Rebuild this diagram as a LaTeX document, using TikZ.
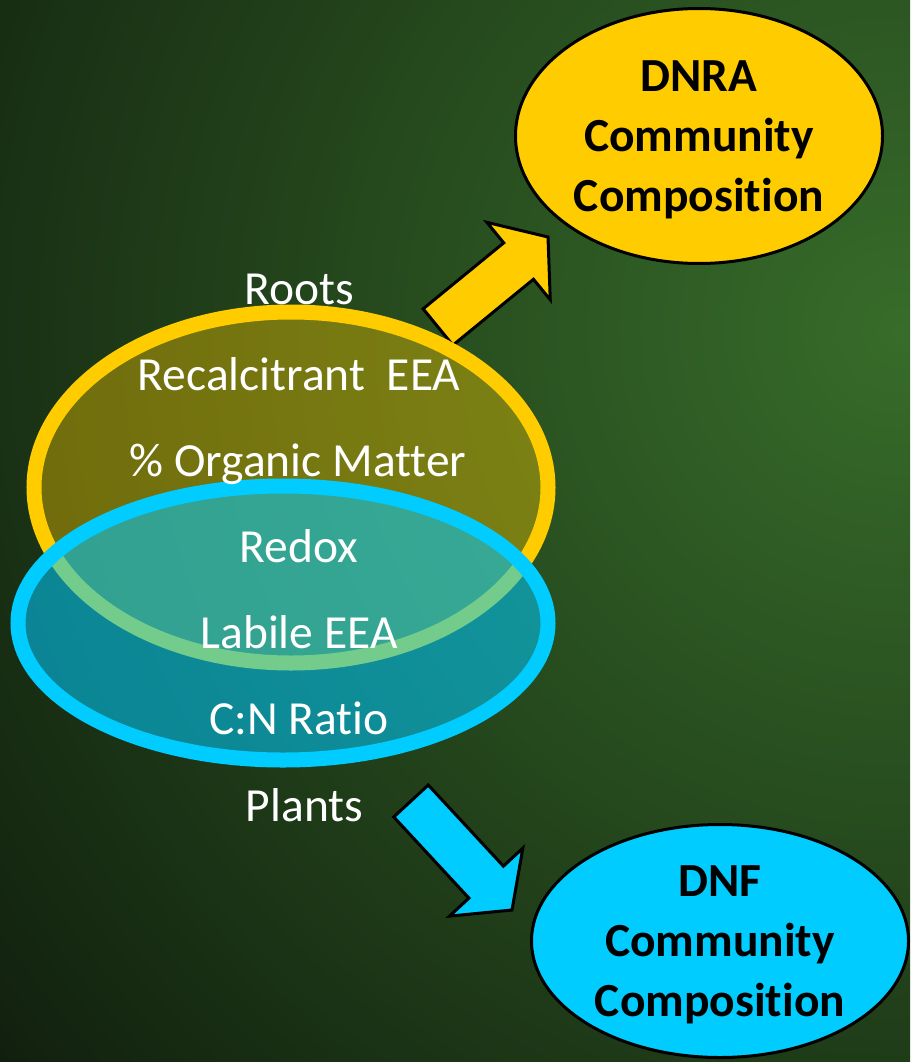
\documentclass[tikz,border=0pt]{standalone}
\usepackage{fontspec}
\setmainfont{Carlito}[Ligatures=NoCommon]
\usetikzlibrary{calc,shapes.geometric}
\definecolor{bgdark}{RGB}{14,26,12}
\definecolor{bglight}{RGB}{55,108,42}
\definecolor{gold}{RGB}{255,204,0}
\definecolor{aqua}{RGB}{0,204,255}
\def\fatarrow[#1](#2)(#3){\draw[#1] ($(#2)!23.5pt!90:(#3)$) -- ($(#3)!38pt!(#2)!23.5pt!90:(#3)$) -- ($(#3)!38pt!(#2)!50pt!90:(#3)$) -- (#3) -- ($(#3)!38pt!(#2)!50pt!-90:(#3)$) -- ($(#3)!38pt!(#2)!23.5pt!-90:(#3)$) -- ($(#2)!23.5pt!-90:(#3)$) -- cycle;}
\tikzset{
	factor/.style={text=white, anchor=base, font=\fontsize{47.5}{56}\selectfont},
	community/.style={ellipse, draw=black, line width=3pt, inner sep=0pt, align=center, text height=151pt, text depth=0pt, font=\fontsize{47.5}{60}\selectfont\bfseries}
}

\begin{document}
\begin{tikzpicture}[x=1pt, y=-1pt]
		%%%%% START %%%%%
		
		\useasboundingbox (0,0) rectangle (910,1062);
		\begin{scope}
			\clip (0,0) rectangle (910,1062);
			\fill[bgdark] (0,0) rectangle (910,1062);
			\shade[inner color=bglight, outer color=bgdark] (900,330) circle [radius=1250pt];
		\end{scope}
		
		\coordinate (dnratail) at (438,327);
		\coordinate (dnratip) at (548,237);
		\coordinate (dnftail) at (411,801);
		\coordinate (dnftip) at (512,910);
		\fatarrow[draw=black, line width=3pt, fill=gold](dnratail)(dnratip);
		\fatarrow[draw=black, line width=3pt, fill=aqua](dnftail)(dnftip);
		
		\node[ellipse, draw=gold, line width=15pt, fill=gold, fill opacity=0.38, minimum width=514pt, minimum height=351pt] (rootset) at (291,487.5) {};
		\node[ellipse, draw=aqua, line width=15pt, fill=aqua, fill opacity=0.55, minimum width=530pt, minimum height=274pt] (plantset) at (283,623) {};
		
		\node[factor] (roots) at (299.5,304) {Roots};
		\node[factor] (recalc) at (299,390) {Recalcitrant~~EEA};
		\node[factor] (organic) at (298,476) {\% Organic Matter};
		\node[factor] (redox) at (299,562) {Redox};
		\node[factor] (labile) at (299,648) {Labile EEA};
		\node[factor] (cnratio) at (299,734) {C:N Ratio};
		\node[factor] (plants) at (304.5,821) {Plants};
		
		\node[community, fill=gold, minimum width=367pt, minimum height=255pt] (dnra) at (699,136) {DNRA\\Community\\Composition};
		\node[community, fill=aqua, minimum width=377pt, minimum height=233pt] (dnf) at (720,941) {DNF\\Community\\Composition};
		
		%%%%% END %%%%%
	\end{tikzpicture}
\end{document}
